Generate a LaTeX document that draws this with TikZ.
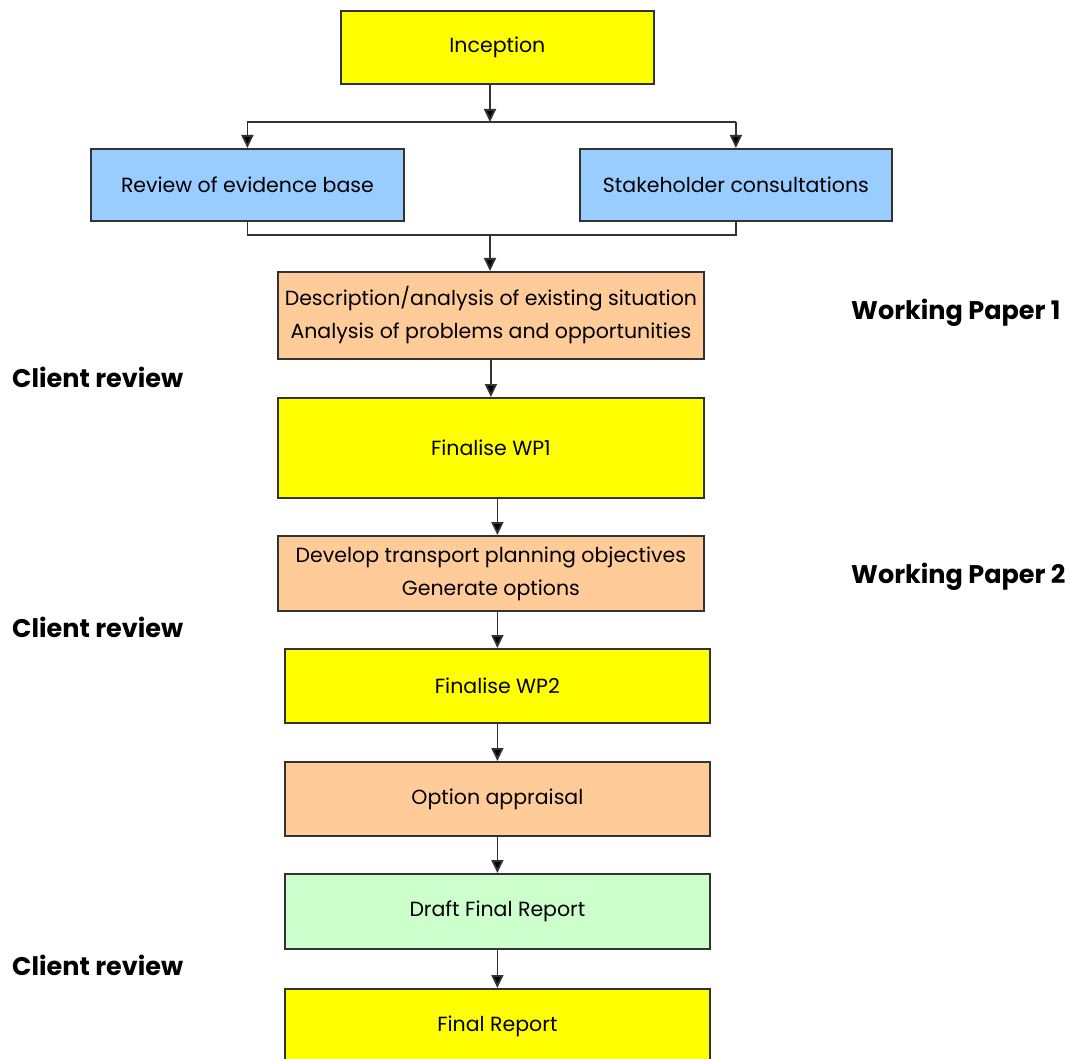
\documentclass[tikz,border=0pt]{standalone}
\usepackage{fontspec}
\setmainfont{Poppins}
\usetikzlibrary{arrows.meta}
\definecolor{cyel}{HTML}{FFFF00}
\definecolor{cblue}{HTML}{99CCFF}
\definecolor{cpeach}{HTML}{FFCC99}
\definecolor{cgreen}{HTML}{CCFFCC}
\definecolor{cline}{HTML}{333333}
\tikzset{
  box/.style={draw=cline, line width=1.8pt, anchor=north west, inner sep=0pt, align=center,
    font=\fontsize{20.5}{33}\selectfont, text=black},
  lbl/.style={font=\fontsize{25.5}{28}\selectfont\bfseries, anchor=west, inner sep=0pt},
  arr/.style={draw=black!80, line width=1.8pt, -{Triangle[width=12pt,length=13pt,fill=black]}},
  ln/.style={draw=black!80, line width=1.8pt},
}
\begin{document}
\begin{tikzpicture}[x=1pt,y=-1pt]
\useasboundingbox[fill=white] (0,0) rectangle (1070,1059);
\clip (0,0) rectangle (1070,1059);
\node[box, fill=cyel, minimum width=313pt, minimum height=73pt] (inc) at (340,10) {Inception};
\node[box, fill=cblue, minimum width=313pt, minimum height=72pt] (rev) at (90,148) {Review of evidence base};
\node[box, fill=cblue, minimum width=312pt, minimum height=72pt] (sta) at (579,148) {Stakeholder consultations};
\node[box, fill=cpeach, minimum width=426pt, minimum height=87pt] (desc) at (277,271) {Description/analysis of existing situation\\Analysis of problems and opportunities};
\node[box, fill=cyel, minimum width=426pt, minimum height=100pt] (wp1) at (277,397) {Finalise WP1};
\node[box, fill=cpeach, minimum width=426pt, minimum height=75pt] (dev) at (277,535) {Develop transport planning objectives\\Generate options};
\node[box, fill=cyel, minimum width=425pt, minimum height=74pt] (wp2) at (284,648) {Finalise WP2};
\node[box, fill=cpeach, minimum width=425pt, minimum height=74pt] (opt) at (284,761) {Option appraisal};
\node[box, fill=cgreen, minimum width=425pt, minimum height=75pt] (dfr) at (284,873) {Draft Final Report};
\node[box, fill=cyel, minimum width=425pt, minimum height=75pt] (fr) at (284,988) {\raisebox{4pt}{Final Report}};

\node[lbl] (wpa) at (851,313) {Working Paper 1};
\node[lbl] (wpb) at (851,577) {Working Paper 2};
\node[lbl] (cr1) at (12,377) {Client review};
\node[lbl] (cr2) at (12,627) {Client review};
\node[lbl] (cr3) at (12,965) {Client review};

\coordinate (split) at (490,122);
\coordinate (join) at (490,235);
\draw[arr] (inc.south -| split) -- (split);
\draw[ln] (rev.north |- split) -- (sta.north |- split);
\draw[arr] (rev.north |- split) -- (rev.north);
\draw[arr] (sta.north |- split) -- (sta.north);
\draw[ln] (rev.south) -- (rev.south |- join) -- (sta.south |- join) -- (sta.south);
\draw[arr] (join) -- (desc.north -| join);
\draw[arr] (desc.south) -- (wp1.north);
\draw[arr] (wp1.south -| wp2.north) -- (dev.north -| wp2.north);
\draw[arr] (dev.south -| wp2.north) -- (wp2.north);
\draw[arr] (wp2.south) -- (opt.north);
\draw[arr] (opt.south) -- (dfr.north);
\draw[arr] (dfr.south) -- (fr.north);
\end{tikzpicture}
\end{document}
